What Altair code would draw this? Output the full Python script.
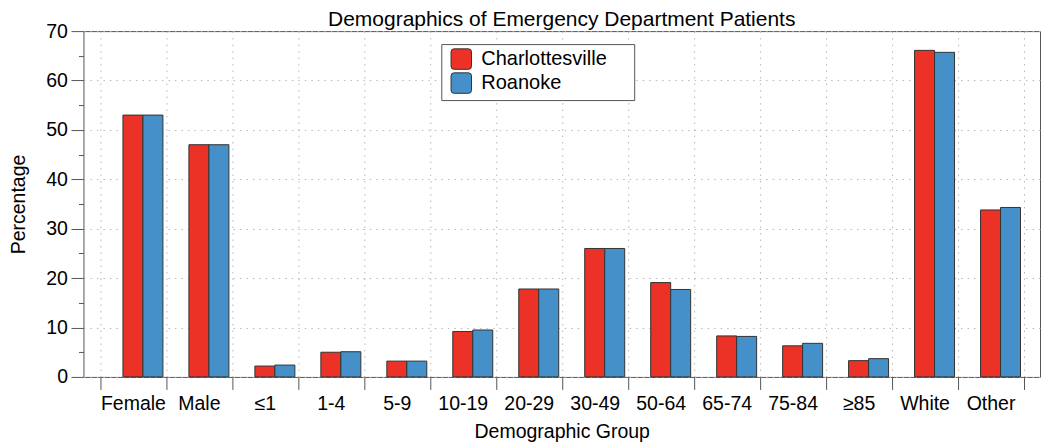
import altair as alt
import pandas as pd

groups = ["Female", "Male", "≤1", "1-4", "5-9", "10-19", "20-29", "30-49",
          "50-64", "65-74", "75-84", "≥85", "White", "Other"]
charlottesville = [53.0, 47.0, 2.2, 5.0, 3.2, 9.2, 17.8, 26.0, 19.1, 8.3, 6.3, 3.3, 66.1, 33.8]
roanoke = [53.0, 47.0, 2.4, 5.1, 3.2, 9.5, 17.8, 26.0, 17.7, 8.2, 6.8, 3.7, 65.7, 34.3]
series = ["Charlottesville", "Roanoke"]
colors = ["#EC3126", "#4590C8"]
y_ticks = list(range(0, 71, 5))

rows = []
for g, c, r in zip(groups, charlottesville, roanoke):
    rows.append({"group": g, "site": series[0], "pct": c})
    rows.append({"group": g, "site": series[1], "pct": r})
df = pd.DataFrame(rows)

FONT = "Liberation Sans"
rounded = ("M -0.7 -1 L 0.7 -1 Q 1 -1 1 -0.7 L 1 0.7 Q 1 1 0.7 1 L -0.7 1 "
           "Q -1 1 -1 0.7 L -1 -0.7 Q -1 -1 -0.7 -1 Z")

chart = alt.Chart(df).mark_bar(stroke="#333333", strokeWidth=1).encode(
    x=alt.X(
        "group:N", sort=groups, title="Demographic Group",
        scale=alt.Scale(paddingInner=0, paddingOuter=0.25),
        axis=alt.Axis(
            labelAngle=0, tickBand="extent", tickSize=12.5, labelPadding=5,
            grid=True, gridDash=[1.5, 5], gridColor="#b8b8b8", domain=False,
            labelOverlap=False, labelFontSize=19.5, titleFontSize=19.5,
            titlePadding=10,
        ),
    ),
    xOffset=alt.XOffset(
        "site:N", sort=series,
        scale=alt.Scale(range=[23, 63], paddingInner=0, paddingOuter=0),
    ),
    y=alt.Y(
        "pct:Q", title="Percentage",
        scale=alt.Scale(domain=[0, 70], nice=False),
        axis=alt.Axis(
            values=y_ticks,
            labelExpr="datum.value % 10 === 0 ? datum.label : ''",
            tickSize=12.5, labelPadding=3.5,
            tickDash={"condition": {"test": "datum.value % 10 !== 0", "value": [5, 30]},
                      "value": [30, 1]},
            grid=True, gridDash=[1.5, 5], gridColor="#b8b8b8",
            gridOpacity={"condition": {"test": "datum.value % 10 === 0", "value": 1},
                         "value": 0},
            domain=False, labelFontSize=19.5, titleFontSize=19.5, titlePadding=17,
        ),
    ),
    color=alt.Color(
        "site:N", sort=series,
        scale=alt.Scale(domain=series, range=colors),
        legend=alt.Legend(
            orient="none", legendX=358, legendY=13, title=None,
            strokeColor="#555555", fillColor="white", padding=4,
            symbolType=rounded, symbolSize=420, symbolStrokeColor="#333333",
            symbolStrokeWidth=1, symbolOffset=5, labelOffset=9,
            labelFontSize=20, labelFont=FONT, labelColor="black",
            rowPadding=-4,
            labelExpr="datum.label + '\u2009\u2009\u2800'",
            symbolOpacity=1,
        ),
    ),
).properties(
    width=957,
    height=346,
    title=alt.TitleParams(
        "Demographics of Emergency Department Patients",
        fontSize=21, font=FONT, fontWeight="normal", anchor="middle",
        frame="group", offset=5, dy=31, baseline="alphabetic", color="black",
    ),
    autosize=alt.AutoSizeParams(type="none"),
    padding={"left": 75.5, "top": 23, "right": 2, "bottom": 80},
).configure_view(
    stroke="#555555", strokeWidth=1,
).configure_axis(
    labelFont=FONT, titleFont=FONT, labelColor="black", titleColor="black",
    tickColor="#555555", tickWidth=1, titleFontWeight="normal",
)

chart.save("out.html", embed_options={"renderer": "svg", "actions": False})
